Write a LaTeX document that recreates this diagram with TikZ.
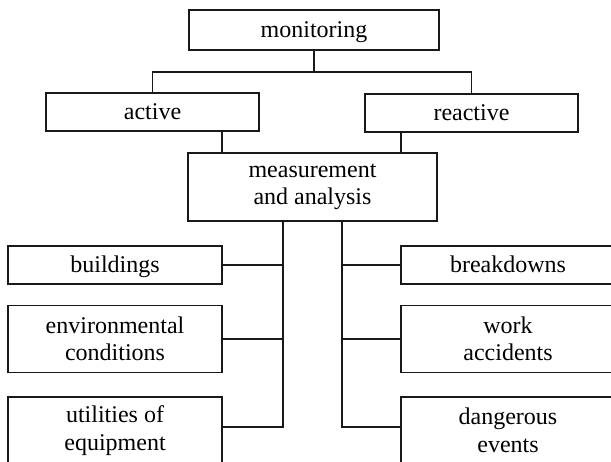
\documentclass[tikz,border=0pt]{standalone}
\usepackage{fontspec}
\setmainfont{Liberation Serif}

\begin{document}
\begin{tikzpicture}[x=1pt,y=-1pt,
  box/.style={draw=black!90, line width=1.3pt, inner sep=0pt, align=center,
    font=\fontsize{24}{27.5}\selectfont},
  single/.style={text height=19.5pt, text depth=5pt},
  wide/.style={single, minimum width=214pt, minimum height=38pt},
  tall/.style={minimum width=214pt, minimum height=67pt},
  link/.style={draw=black!90, line width=1.3pt}]
  \useasboundingbox (0,0) rectangle (611,461);

  % Top levels
  \node[box, single, minimum width=250pt, minimum height=40pt] (monitoring) at (314,30) {monitoring};
  \node[box, wide, minimum width=213pt] (active) at (152.5,112) {active};
  \node[box, wide, minimum width=213pt] (reactive) at (471.5,113) {reactive};
  \node[box, minimum width=249pt, minimum height=68pt] (measure) at (312.5,187) {measurement\\and analysis};

  % Left column: active side
  \node[box, wide] (buildings) at (115,265) {buildings};
  \node[box, tall] (environ) at (115,339) {environmental\\conditions};
  \node[box, tall] (utilities) at (115,430.5) {utilities of\\equipment};

  % Right column: reactive side
  \node[box, wide] (breakdowns) at (508,265) {breakdowns};
  \node[box, tall] (accidents) at (508,339) {work\\accidents};
  \node[box, tall] (dangerous) at (508,430.5) {dangerous\\events};

  % Tree connectors
  \coordinate (split) at (314,72);
  \draw[link] (monitoring.south) -- (split);
  \draw[link] (active.north) |- (split) -| (reactive.north);

  \coordinate (acol) at (222,142);
  \coordinate (rcol) at (401,142);
  \draw[link] (active.south -| acol) -- (measure.north -| acol);
  \draw[link] (reactive.south -| rcol) -- (measure.north -| rcol);

  % Branches below measurement
  \coordinate (lbot) at (283,427);
  \coordinate (rbot) at (342,427);
  \draw[link] (measure.south -| lbot) -- (lbot) -- (utilities.east |- lbot);
  \draw[link] (measure.south -| rbot) -- (rbot) -- (dangerous.west |- rbot);
  \draw[link] (buildings.east) -- (buildings.east -| lbot);
  \draw[link] (environ.east) -- (environ.east -| lbot);
  \draw[link] (breakdowns.west) -- (breakdowns.west -| rbot);
  \draw[link] (accidents.west) -- (accidents.west -| rbot);
\end{tikzpicture}
\end{document}
